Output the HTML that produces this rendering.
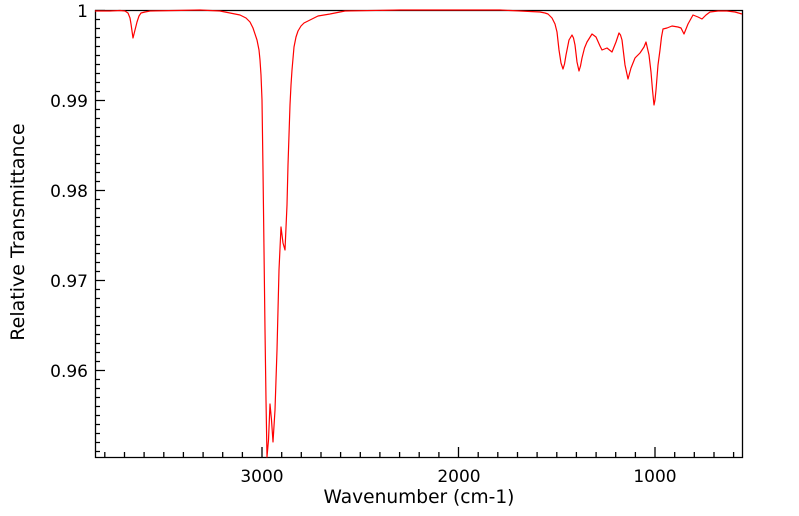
<!DOCTYPE html>
<html><head><meta charset="utf-8"><style>body{margin:0;background:#fff}svg{display:block}</style></head><body>
<svg width="799" height="516" xmlns="http://www.w3.org/2000/svg" font-family="DejaVu Sans, sans-serif">
<rect width="799" height="516" fill="#fff"/>
<path d="M95.5 10.5H742.5V457.5H95.5Z" stroke="#000" stroke-width="1.3" fill="none"/>
<g stroke="#000" stroke-width="1.3">
<path d="M95 10.5h10M95 19.5h5M95 28.5h5M95 37.5h5M95 46.5h5M95 55.5h5M95 64.5h5M95 73.5h5M95 82.5h5M95 91.5h5
M95 100.5h10M95 109.5h5M95 118.5h5M95 127.5h5M95 136.5h5M95 145.5h5M95 154.5h5M95 163.5h5M95 172.5h5M95 181.5h5
M95 190.5h10M95 199.5h5M95 208.5h5M95 217.5h5M95 226.5h5M95 235.5h5M95 244.5h5M95 253.5h5M95 262.5h5M95 271.5h5
M95 280.5h10M95 289.5h5M95 298.5h5M95 307.5h5M95 316.5h5M95 325.5h5M95 334.5h5M95 343.5h5M95 352.5h5M95 361.5h5
M95 370.5h10M95 379.5h5M95 388.5h5M95 397.5h5M95 406.5h5M95 415.5h5M95 424.5h5M95 433.5h5M95 442.5h5M95 451.5h5"/>
<path d="M104.8 457v-5M124.5 457v-5M144.1 457v-5M163.8 457v-5M183.4 457v-5M203.1 457v-5M222.7 457v-5M242.4 457v-5
M262 457v-10M281.7 457v-5M301.3 457v-5M321 457v-5M340.6 457v-5M360.3 457v-5M379.9 457v-5M399.6 457v-5M419.2 457v-5M438.9 457v-5
M458.5 457v-10M478.2 457v-5M497.8 457v-5M517.5 457v-5M537.1 457v-5M556.8 457v-5M576.4 457v-5M596.1 457v-5M615.7 457v-5M635.4 457v-5
M655 457v-10M674.7 457v-5M694.3 457v-5M714 457v-5M733.6 457v-5"/>
</g>
<polyline fill="none" stroke="#ff0000" stroke-width="1.2" stroke-linejoin="round" points="95,11 110,11 120,10.5 125,11 128,13 130,18 131,24 133,38 135,30 137,22 139,16 141,13 145,12 150,11 200,10 220,11 230,13 240,15 246,18 250,22 253,28 257,40 259,50 260,60 261,75 262,100 263,170 264,250 265,330 266,400 267,457 268.5,440 270,404 271.5,420 273,442 275,410 277,350 279,270 281,227 283,243 285,250 287,205 288,165 289,135 290,105 291,85 292,70 294,47 296,37 298,31 301,26 304,23 310,20 318,16 330,14 345,11 400,10 500,10 540,12 545,13 548,14 552,18 555,24 557,32 559,50 561,63 563,69 564.5,64 566,55 569,40 572,35 573.5,38 575,45 577,62 579,71 580.5,66 582,58 584.5,48 587,42 592,34 596,37 600,46 602,50 607,48 612,52 616,42 619,33 620.5,35 622,40 625,65 628,79 631,68 635,58 640,53 644,47 646,42 649,55 651,72 652.5,90 654,105 655,100 656,90 658,65 660,50 661.5,37 663,29 667,28 672,26 678,27 681,28 684,34 688,24 693,15 698,17 702,19 706,15 710,12 718,11 727,11 735,12 742,14"/>
<g font-size="17" fill="#000" text-anchor="end">
<text x="88" y="17">1</text>
<text x="88" y="107">0.99</text>
<text x="88" y="197">0.98</text>
<text x="88" y="287">0.97</text>
<text x="88" y="377">0.96</text>
</g>
<g font-size="17" fill="#000" text-anchor="middle">
<text x="262" y="482">3000</text>
<text x="459" y="482">2000</text>
<text x="655" y="482">1000</text>
<text x="419" y="503" font-size="18.6">Wavenumber (cm-1)</text>
<text transform="translate(24,232) rotate(-90)" font-size="19">Relative Transmittance</text>
</g>
</svg>
</body></html>
